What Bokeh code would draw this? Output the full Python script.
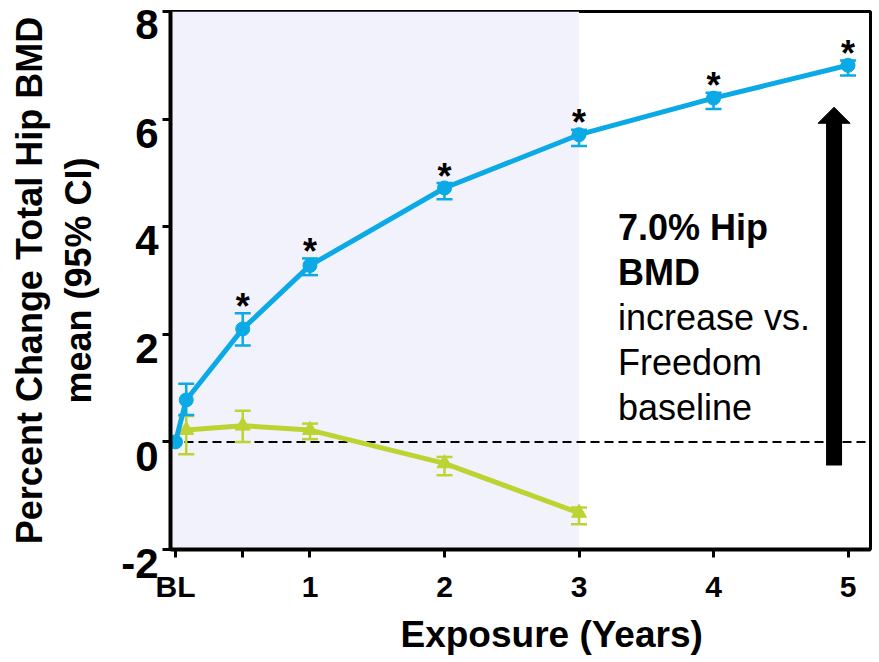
from bokeh.plotting import figure
from bokeh.models import (ColumnDataSource, Whisker, TeeHead, BoxAnnotation, Span,
                          FixedTicker, Range1d, Title)
from bokeh.core.properties import value
from bokeh.embed import file_html
from bokeh.resources import INLINE

# ---------------- data ----------------
blue_x = [0, 0.08, 0.5, 1, 2, 3, 4, 5]
blue_y = [0, 0.78, 2.1, 3.28, 4.72, 5.71, 6.39, 7.0]
blue_lo = [0, 0.5, 1.79, 3.1, 4.51, 5.5, 6.19, 6.81]
blue_hi = [0, 1.08, 2.39, 3.41, 4.81, 5.8, 6.49, 7.09]

green_x = [0.08, 0.5, 1, 2, 3]
green_y = [0.22, 0.3, 0.22, -0.4, -1.32]
green_lo = [-0.23, 0.0, 0.05, -0.62, -1.53]
green_hi = [0.48, 0.58, 0.34, -0.28, -1.22]

star_idx = [2, 3, 4, 5, 6, 7]           # blue points marked with *

x_ticks = [0, 0.5, 1, 2, 3, 4, 5]
x_tick_labels = ["BL", "", "1", "2", "3", "4", "5"]
y_ticks = [-2, 0, 2, 4, 6, 8]
y_tick_labels = ["-2", "0", "2", "4", "6", "8"]

shade_end = 3                           # shaded exposure period
arrow_x, arrow_y0, arrow_tip = 4.896, -0.44, 6.22
note_lines = ["7.0% Hip", "BMD", "increase vs.", "Freedom", "baseline"]
note_styles = ["bold", "bold", "normal", "normal", "normal"]

BLUE = "#0BA9E6"
GREEN = "#BDD332"
FONT = "Liberation Sans"

X0, X1 = -0.037, 5.167
Y0, Y1 = -2, 8
FW, FH = 700, 538
px_x = FW / (X1 - X0)       # pixels per data unit
px_y = FH / (Y1 - Y0)

# ---------------- figure ----------------
p = figure(frame_width=FW, frame_height=FH,
           x_range=Range1d(X0, X1), y_range=Range1d(Y0, Y1),
           output_backend="svg", toolbar_location=None,
           min_border_left=170, min_border_top=11, min_border_right=2,
           min_border_bottom=0,
           background_fill_color="white", border_fill_color="white")

p.xgrid.visible = False
p.ygrid.visible = False
p.outline_line_color = "black"
p.outline_line_width = 3

# shaded region & zero line
p.add_layout(BoxAnnotation(right=shade_end, fill_color="#F2F2FC", fill_alpha=1,
                           line_alpha=0, level="underlay"))
p.add_layout(Span(location=0, dimension="width", line_color="black",
                  line_width=2, line_dash="9 5", level="underlay"))

# green series
p.line(green_x, green_y, line_color=GREEN, line_width=5)
p.scatter(green_x, green_y, marker="triangle", size=15, fill_color=GREEN,
          line_color=GREEN)
gsrc = ColumnDataSource(dict(base=green_x, upper=green_hi, lower=green_lo))
p.add_layout(Whisker(source=gsrc, base="base", upper="upper", lower="lower",
                     line_color=GREEN, line_width=2.5,
                     upper_head=TeeHead(size=16, line_color=GREEN, line_width=2.5),
                     lower_head=TeeHead(size=16, line_color=GREEN, line_width=2.5)))

# blue series
p.line(blue_x, blue_y, line_color=BLUE, line_width=5)
p.scatter(blue_x, blue_y, marker="circle", size=14, fill_color=BLUE,
          line_color=BLUE)
bsrc = ColumnDataSource(dict(base=blue_x[1:], upper=blue_hi[1:], lower=blue_lo[1:]))
p.add_layout(Whisker(source=bsrc, base="base", upper="upper", lower="lower",
                     line_color=BLUE, line_width=2.5,
                     upper_head=TeeHead(size=16, line_color=BLUE, line_width=2.5),
                     lower_head=TeeHead(size=16, line_color=BLUE, line_width=2.5)))

# significance stars
p.text([blue_x[i] for i in star_idx], [blue_hi[i] + 0.13 for i in star_idx],
       text=["*"] * len(star_idx), text_font=value(FONT), text_font_style="bold",
       text_font_size="36px", text_align="center", text_baseline="middle",
       text_color="black")

# arrow: thick shaft + wide, short head
head_len = 16 / px_y
head_half = 16 / px_x
p.segment(x0=[arrow_x], y0=[arrow_y0], x1=[arrow_x], y1=[arrow_tip - head_len + 0.02],
          line_color="black", line_width=16, line_cap="butt")
p.patch([arrow_x - head_half, arrow_x, arrow_x + head_half],
        [arrow_tip - head_len, arrow_tip, arrow_tip - head_len],
        fill_color="black", line_color="black", line_width=1)

# note text
line_gap = 45 / px_y
nsrc = ColumnDataSource(dict(
    x=[3.29] * len(note_lines),
    y=[3.985 - i * line_gap for i in range(len(note_lines))],
    text=note_lines, style=note_styles))
p.text("x", "y", text="text", source=nsrc, text_font=value(FONT),
       text_font_style="style", text_font_size="36px", text_align="left",
       text_baseline="middle", text_color="black")

# axes
p.xaxis.ticker = FixedTicker(ticks=x_ticks)
p.xaxis.major_label_overrides = {t: l for t, l in zip(x_ticks, x_tick_labels)}
p.yaxis.ticker = FixedTicker(ticks=y_ticks)
# an empty first line drops each y label so its top sits at the tick
# (the top label is kept inside the canvas by Bokeh itself)
p.yaxis.major_label_overrides = {t: (l if t == max(y_ticks) else "\n" + l)
                                 for t, l in zip(y_ticks, y_tick_labels)}
for ax in (p.xaxis, p.yaxis):
    ax.minor_tick_line_color = None
    ax.major_tick_in = 0
    ax.major_tick_out = 8
    ax.major_tick_line_width = 3
    ax.axis_line_width = 4
    ax.axis_line_color = "black"
    ax.major_label_text_font = FONT
    ax.major_label_text_font_style = "bold"
    ax.major_label_text_color = "black"
    ax.axis_label_text_font = FONT
    ax.axis_label_text_font_style = "bold"
    ax.axis_label_text_color = "black"

p.xaxis.major_label_text_font_size = "30px"
p.xaxis.major_label_standoff = 12

p.yaxis.major_label_text_font_size = "42px"
p.yaxis.major_label_text_line_height = 0.6
p.yaxis.major_label_standoff = 4
p.yaxis.axis_label = "Percent Change Total Hip BMD\nmean (95% CI)"
p.yaxis.axis_label_text_font_size = "36px"
p.yaxis.axis_label_standoff = 19

p.add_layout(Title(text="Exposure (Years)", align="left", offset=230,
                   text_font=FONT, text_font_style="bold", text_font_size="37px",
                   text_color="black", standoff=12), "below")

open("out.html", "w").write(file_html(p, INLINE))
